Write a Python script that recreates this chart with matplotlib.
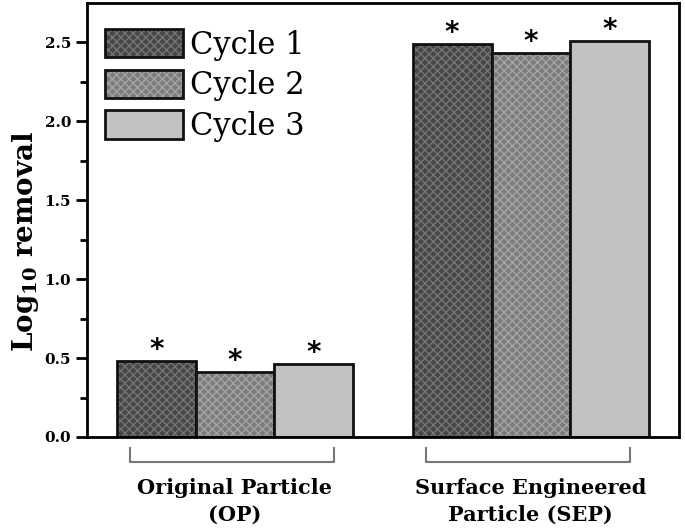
import numpy as np
import matplotlib
matplotlib.use("Agg")
from matplotlib import pyplot as plt
from matplotlib import transforms
from matplotlib.legend_handler import HandlerTuple

groups = ["Original Particle\n(OP)", "Surface Engineered\nParticle (SEP)"]
cycles = ["Cycle 1", "Cycle 2", "Cycle 3"]
log_removal = {
    "Cycle 1": [0.48, 2.49],
    "Cycle 2": [0.41, 2.43],
    "Cycle 3": [0.46, 2.51],
}
significance = ["*", "*", "*"]

face_colors = ["#464646", "#7c7c7c", "#c2c2c2"]
hatch_colors = ["#747474", "#a4a4a4", "#c2c2c2"]
hatches = ["xxxx", "xxxx", ""]

plt.rcParams["font.family"] = "DejaVu Serif"
plt.rcParams["mathtext.fontset"] = "dejavuserif"
plt.rcParams["hatch.linewidth"] = 1.0

fig = plt.figure(figsize=(6.85, 5.3), dpi=100)
ax = fig.add_axes([0.127, 0.1755, 0.864, 0.819])

x = np.arange(len(groups))
width = 0.266
handles = []
for i, cyc in enumerate(cycles):
    pos = x + (i - 1) * width
    vals = log_removal[cyc]
    # hatch drawn in a lighter grey, black outline drawn on top
    fill = ax.bar(pos, vals, width, color=face_colors[i], edgecolor=hatch_colors[i],
                  hatch=hatches[i], linewidth=0)
    outline = ax.bar(pos, vals, width, fill=False, edgecolor="#111111", linewidth=2)
    handles.append((fill, outline))
    for p, v in zip(pos, vals):
        ax.annotate(significance[i], (p, v), xytext=(0, -2), textcoords="offset points",
                    ha="center", va="bottom", fontsize=20, fontweight="bold",
                    family="DejaVu Sans")

ax.set_xlim(-0.5, 1.5)
ax.set_ylim(0, 2.75)
ax.set_yticks(np.arange(0, 2.51, 0.5))
ax.set_yticks(np.arange(0.25, 2.6, 0.5), minor=True)
ax.set_yticklabels([f"{t:.1f}" for t in np.arange(0, 2.51, 0.5)], fontweight="bold", fontsize=11)
ax.set_xticks([])
ax.tick_params(axis="y", which="major", direction="out", length=8, width=2)
ax.tick_params(axis="y", which="minor", direction="out", length=5, width=2)
for s in ax.spines.values():
    s.set_linewidth(2)

ax.set_ylabel(r"Log$_{\mathbf{10}}$ removal", fontsize=20, fontweight="bold")
ax.yaxis.set_label_coords(-0.077, 0.45)

# brackets with group labels below the axis
trans = transforms.blended_transform_factory(ax.transData, ax.transAxes)
for xi, name in zip(x, groups):
    ax.plot([xi - 0.355, xi - 0.355, xi + 0.335, xi + 0.335], [-0.025, -0.058, -0.058, -0.025],
            color="#777777", lw=1.5, transform=trans, clip_on=False)
    ax.text(xi, -0.095, name, transform=trans, ha="center", va="top",
            fontsize=15, fontweight="bold", linespacing=1.4)

ax.legend(handles, cycles, handler_map={tuple: HandlerTuple(ndivide=1)},
          loc="upper left", bbox_to_anchor=(0.03, 0.94), borderpad=0, borderaxespad=0,
          frameon=False, fontsize=22, handlelength=2.55, handleheight=1.05,
          labelspacing=0.3, handletextpad=0.25)

fig.savefig("out.png", dpi=100)
